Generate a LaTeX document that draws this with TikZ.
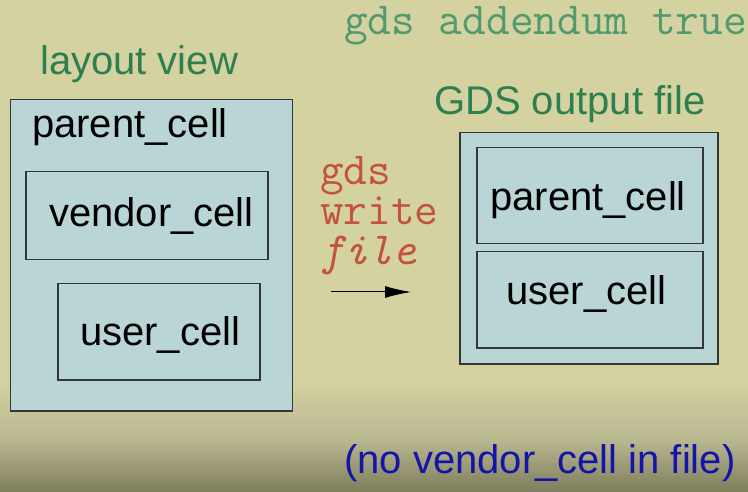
\documentclass[tikz,border=0pt]{standalone}
\usepackage{fontspec}
\setmainfont{Liberation Sans}
\usetikzlibrary{arrows.meta}
\definecolor{bgtop}{HTML}{D4D2A0}
\definecolor{bgmid}{HTML}{B9B790}
\definecolor{bgbot}{HTML}{7E7D5C}
\definecolor{boxfill}{HTML}{B9D5D5}
\definecolor{boxline}{HTML}{333835}
\definecolor{titlegreen}{HTML}{2E7F50}
\definecolor{monogreen}{HTML}{529A6E}
\definecolor{monored}{HTML}{C4533E}
\definecolor{noteblue}{HTML}{1414A8}
\begin{document}
\begin{tikzpicture}[x=1pt,y=-1pt,
  cellbox/.style={draw=boxline,line width=1.5pt,fill=boxfill,inner sep=0pt,anchor=north west},
  bigtxt/.style={inner sep=0pt,anchor=base west,font=\fontsize{40}{40}\selectfont},
  monotxt/.style={inner sep=0pt,anchor=base west,font=\fontsize{46}{46}\selectfont\ttfamily}]
\useasboundingbox (0,0) rectangle (748,492);
\fill[bgtop] (0,0) rectangle (748,381);
\shade[top color=bgtop,bottom color=bgmid] (0,380) rectangle (748,441);
\shade[top color=bgmid,bottom color=bgbot] (0,440) rectangle (748,492);
% titles
\node[monotxt,text=monogreen] (addendum) at (344,35) {gds addendum true};
\node[bigtxt,text=titlegreen] (layoutview) at (40,75) {layout view};
\node[bigtxt,text=titlegreen] (gdsout) at (434,115) {GDS output file};
% left layout view
\node[cellbox,minimum width=282pt,minimum height=311pt] (lparent) at (9.5,99) {};
\node[bigtxt] (lparenttxt) at (32,138) {parent\_cell};
\node[cellbox,minimum width=242pt,minimum height=88pt] (lvendor) at (25,171) {};
\node[bigtxt] (lvendortxt) at (49,227) {vendor\_cell};
\node[cellbox,minimum width=202pt,minimum height=96pt] (luser) at (57,283) {};
\node[bigtxt] (lusertxt) at (80,345) {user\_cell};
% middle command
\node[monotxt,text=monored] (cmdgds) at (320,185) {gds};
\node[monotxt,text=monored] (cmdwrite) at (320,225) {write};
\node[monotxt,text=monored,font=\fontsize{46}{46}\selectfont\ttfamily\itshape] (cmdfile) at (320,265) {file};
\coordinate (arrowstart) at (331,292);
\coordinate (arrowend) at (411,292);
\draw[line width=1pt,-{Latex[length=26pt,width=12pt,inset=3pt]}] (arrowstart) -- (arrowend);
% right GDS output
\node[cellbox,minimum width=258pt,minimum height=231pt] (rfile) at (459,132) {};
\node[cellbox,minimum width=226pt,minimum height=96pt] (rparent) at (476,147) {};
\node[bigtxt] (rparenttxt) at (490,211) {parent\_cell};
\node[cellbox,minimum width=226pt,minimum height=96pt] (ruser) at (476,251) {};
\node[bigtxt] (rusertxt) at (506,305) {user\_cell};
% note
\node[bigtxt,text=noteblue] (note) at (344,473) {(no vendor\_cell in file)};
\end{tikzpicture}
\end{document}
